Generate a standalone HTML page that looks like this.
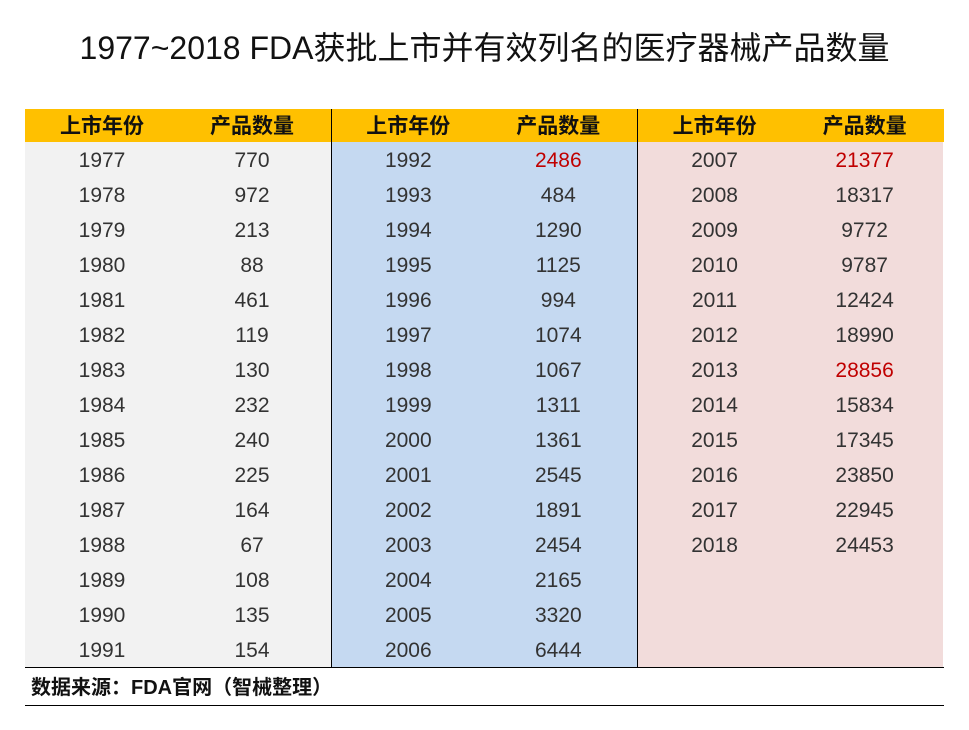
<!DOCTYPE html>
<html><head><meta charset="utf-8"><style>
body{margin:0;width:969px;height:730px;background:#fff;position:relative;font-family:"Liberation Sans","Noto Sans CJK SC",sans-serif;overflow:hidden}
.t{position:absolute;left:0;width:969px;top:27px;text-align:center;font-size:32px;color:#111;line-height:42px}
.hd{position:absolute;left:25px;top:109px;width:919px;height:33px;background:#FFC000}
.col{position:absolute;top:142px;height:525px;width:306px}
.c{position:absolute;width:150px;text-align:center;font-size:21px;line-height:35px;color:#333;margin-left:-75px;margin-top:1px}
.h{position:absolute;width:150px;text-align:center;font-size:21px;line-height:33px;top:110px;color:#111;font-weight:bold;margin-left:-75px}
.vl{position:absolute;top:109px;height:558px;width:1px;background:#000}
.hl{position:absolute;left:25px;width:919px;height:1px;background:#000}
.red{color:#C00000}
</style></head><body>
<div class="t">1977~2018 FDA获批上市并有效列名的医疗器械产品数量</div>
<div class="hd"></div>
<div class="col" style="left:25px;background:#F2F2F2"></div>
<div class="col" style="left:331px;background:#C5D9F1"></div>
<div class="col" style="left:637px;background:#F2DCDB"></div>
<div class="vl" style="left:331px"></div>
<div class="vl" style="left:637px"></div>
<div class="hl" style="top:667px"></div>
<div class="hl" style="top:705px"></div>
<div style="position:absolute;left:31px;top:674px;font-size:20px;line-height:28px;color:#111;font-weight:bold">数据来源：FDA官网（智械整理）</div>
<div id="g"></div>
<script>
var d=[[[1977,770],[1978,972],[1979,213],[1980,88],[1981,461],[1982,119],[1983,130],[1984,232],[1985,240],[1986,225],[1987,164],[1988,67],[1989,108],[1990,135],[1991,154]],
[[1992,2486],[1993,484],[1994,1290],[1995,1125],[1996,994],[1997,1074],[1998,1067],[1999,1311],[2000,1361],[2001,2545],[2002,1891],[2003,2454],[2004,2165],[2005,3320],[2006,6444]],
[[2007,21377],[2008,18317],[2009,9772],[2010,9787],[2011,12424],[2012,18990],[2013,28856],[2014,15834],[2015,17345],[2016,23850],[2017,22945],[2018,24453]]];
var red={2486:1,21377:1,28856:1},h="";
for(var i=0;i<3;i++){var x=25+i*306.3;
h+='<div class="h" style="left:'+(x+77)+'px">上市年份</div><div class="h" style="left:'+(x+227)+'px">产品数量</div>';
d[i].forEach(function(r,j){var y=142+j*35;
h+='<div class="c" style="left:'+(x+77)+'px;top:'+y+'px">'+r[0]+'</div><div class="c'+(red[r[1]]?' red':'')+'" style="left:'+(x+227)+'px;top:'+y+'px">'+r[1]+'</div>';});}
document.getElementById('g').innerHTML=h;
</script>
</body></html>
